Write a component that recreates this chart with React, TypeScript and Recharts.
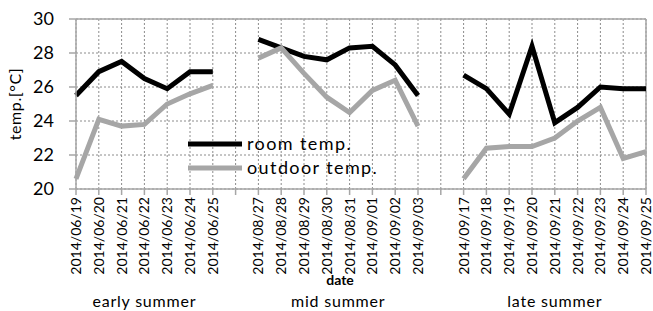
import React from 'react';
import { LineChart, Line, XAxis, YAxis, CartesianGrid, ReferenceLine, Legend } from 'recharts';

const earlyDates = ['2014/06/19', '2014/06/20', '2014/06/21', '2014/06/22', '2014/06/23', '2014/06/24', '2014/06/25'];
const midDates = ['2014/08/27', '2014/08/28', '2014/08/29', '2014/08/30', '2014/08/31', '2014/09/01', '2014/09/02', '2014/09/03'];
const lateDates = ['2014/09/17', '2014/09/18', '2014/09/19', '2014/09/20', '2014/09/21', '2014/09/22', '2014/09/23', '2014/09/24', '2014/09/25'];

const earlyRoom = [25.5, 26.9, 27.5, 26.5, 25.9, 26.9, 26.9];
const earlyOutdoor = [20.6, 24.1, 23.7, 23.8, 25.0, 25.6, 26.1];
const midRoom = [28.8, 28.3, 27.8, 27.6, 28.3, 28.4, 27.3, 25.5];
const midOutdoor = [27.7, 28.3, 26.8, 25.4, 24.5, 25.8, 26.4, 23.7];
const lateRoom = [26.7, 25.9, 24.4, 28.4, 23.9, 24.8, 26.0, 25.9, 25.9];
const lateOutdoor = [20.6, 22.4, 22.5, 22.5, 23.0, 24.0, 24.8, 21.8, 22.2];

const groupNames = ['early summer', 'mid summer', 'late summer'];
const yTicks = [20, 22, 24, 26, 28, 30];
const seriesNames = ['room temp.', 'outdoor temp.'];

const groups = [
  { dates: earlyDates, room: earlyRoom, outdoor: earlyOutdoor },
  { dates: midDates, room: midRoom, outdoor: midOutdoor },
  { dates: lateDates, room: lateRoom, outdoor: lateOutdoor },
];

type Row = { key: string; label: string; room: number | null; outdoor: number | null; group: number; pos: number; size: number };
const data: Row[] = [];
groups.forEach((g, gi) => {
  if (gi > 0) data.push({ key: 'gap' + gi, label: '', room: null, outdoor: null, group: -1, pos: -1, size: 0 });
  g.dates.forEach((d, i) => {
    data.push({ key: d, label: d, room: g.room[i], outdoor: g.outdoor[i], group: gi, pos: i, size: g.dates.length });
  });
});

const W = 653;
const H = 311;
const M = { top: 19, right: 7, left: 0, bottom: 0 };
const Y_W = 76;
const X_H = 122;
const STEP = (W - M.left - M.right - Y_W) / (data.length - 1);
const FONT = 'Lato, "Open Sans", sans-serif';
const AXIS = '#a6a6a6';
const GRID = '#8c8c8c';
const BLACK = '#000000';
const GRAY = '#a6a6a6';

const XTick = (props: any) => {
  const { x, y, payload, index } = props;
  const row = data[index] || data.find((r) => r.key === payload.value);
  if (!row || !row.label) return <g />;
  const els: any[] = [
    <text key="t" x={x} y={y} transform={`rotate(-90, ${x}, ${y})`} textAnchor="end" dy="0.36em"
      fontFamily={FONT} fontSize={14} fill="#000">{row.label}</text>,
  ];
  if (row.pos === 0) {
    const cx = x + ((row.size - 1) / 2) * STEP;
    els.push(
      <text key="g" x={cx} y={307} textAnchor="middle" fontFamily={FONT} fontSize={16} letterSpacing={0.8} fill="#000">
        {groupNames[row.group]}
      </text>
    );
  }
  return <g>{els}</g>;
};

const LegendContent = () => (
  <svg width={240} height={50} style={{ display: 'block' }}>
    {seriesNames.map((n, i) => (
      <g key={n}>
        <line x1={2} x2={56} y1={12 + i * 24} y2={12 + i * 24} stroke={i === 0 ? BLACK : GRAY} strokeWidth={5} />
        <text x={61} y={12 + i * 24 + 6} fontFamily={FONT} fontSize={18} letterSpacing={1.4} fill="#000">{n}</text>
      </g>
    ))}
  </svg>
);

export default function App() {
  return (
    <div style={{ position: 'absolute', left: 0, top: 0, width: W, height: H, background: '#fff' }}>
      <LineChart width={W} height={H} data={data} margin={M}>
        <CartesianGrid stroke={GRID} strokeDasharray="2 2" strokeWidth={1} />
        <XAxis
          dataKey="key"
          height={X_H}
          interval={0}
          tick={<XTick />}
          tickSize={6}
          tickMargin={2}
          stroke={AXIS}
          strokeWidth={1.5}
          tickLine={{ stroke: AXIS }}
          label={{
            content: () => (
              <text x={340} y={285} textAnchor="middle" fontFamily={FONT} fontSize={14} fontWeight="bold" fill="#000">date</text>
            ),
          }}
        />
        <YAxis
          width={Y_W}
          domain={[20, 30]}
          ticks={yTicks}
          interval={0}
          tickSize={7}
          tickMargin={15}
          stroke={AXIS}
          strokeWidth={1.5}
          tick={{ fontFamily: FONT, fontSize: 18, fill: '#000' }}
          label={{
            content: (p: any) => {
              const vb = p.viewBox || { y: 19, height: 170 };
              const cy = vb.y + vb.height / 2;
              return (
                <text x={15} y={cy} transform={`rotate(-90, 15, ${cy})`} textAnchor="middle" dy="0.36em"
                  fontFamily={FONT} fontSize={16} letterSpacing={0.6} fill="#000">temp.[°C]</text>
              );
            },
          }}
        />
        <ReferenceLine y={30} stroke={AXIS} strokeWidth={1.5} />
        <ReferenceLine x={lateDates[lateDates.length - 1]} stroke={AXIS} strokeWidth={1.5} />
        <Line dataKey="room" name={seriesNames[0]} stroke={BLACK} strokeWidth={5} dot={false} isAnimationActive={false} connectNulls={false} />
        <Line dataKey="outdoor" name={seriesNames[1]} stroke={GRAY} strokeWidth={5} dot={false} isAnimationActive={false} connectNulls={false} />
        <Legend
          layout="vertical"
          align="center"
          verticalAlign="middle"
          content={<LegendContent />}
          wrapperStyle={{ position: 'absolute', left: 186, top: 132, width: 240, height: 50 }}
        />
      </LineChart>
    </div>
  );
}
